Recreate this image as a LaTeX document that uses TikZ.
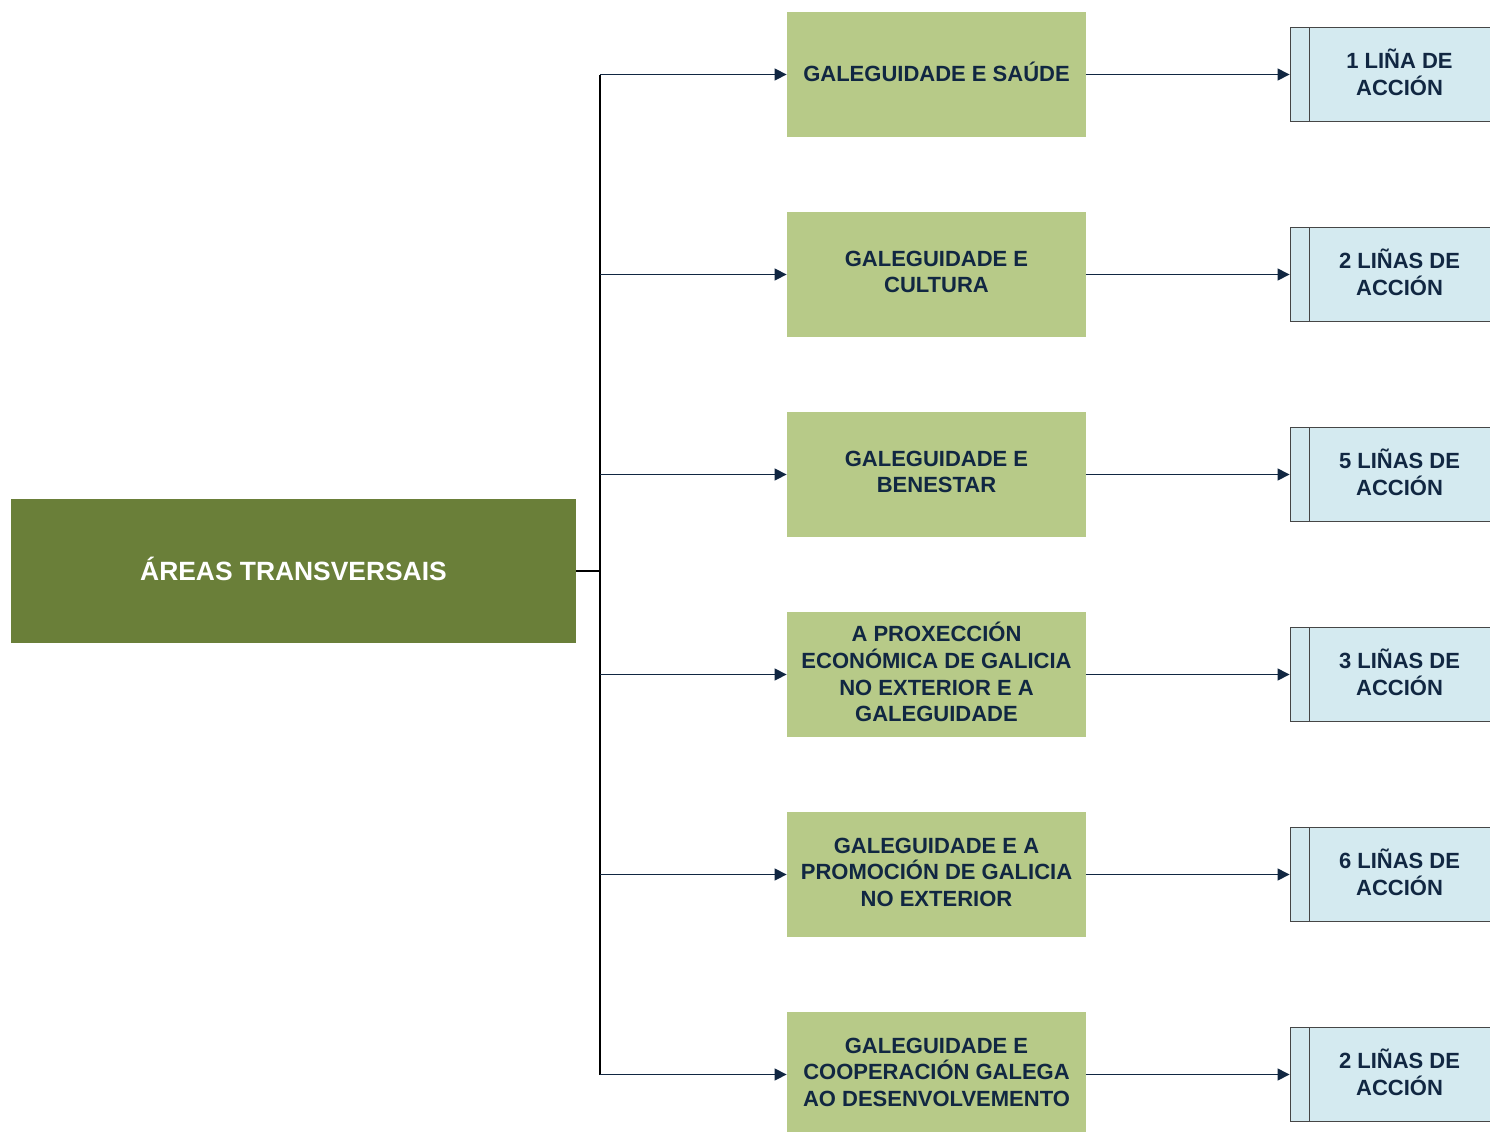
\documentclass[tikz,border=0pt]{standalone}
\usepackage{fontspec}
\setmainfont{Liberation Sans}
\usepackage{tikz}
\usetikzlibrary{calc}
\usetikzlibrary{arrows.meta}

\definecolor{navytext}{RGB}{17,39,66}
\definecolor{areafill}{RGB}{106,127,57}
\definecolor{themefill}{RGB}{183,202,136}
\definecolor{linefill}{RGB}{212,234,240}
\definecolor{lineborder}{RGB}{70,70,70}

\begin{document}
\begin{tikzpicture}[x=0.5pt,y=-0.5pt]
  \tikzset{myedge/.style={draw=navytext, line width=0.7pt, -{Triangle[length=6pt,width=6pt]}}};
  \tikzset{mytrunk/.style={draw=black, line width=0.7pt}};
  \tikzset{myarea/.style={rectangle, fill=areafill, text=white, inner sep=0pt,
      minimum width=282.5pt, minimum height=72pt, text depth=2pt,
      font=\bfseries\fontsize{13.2}{16}\selectfont}};
  \tikzset{mytheme/.style={rectangle, fill=themefill, text=navytext, inner sep=0pt,
      minimum width=149.5pt, minimum height=62.5pt, align=center, text depth=2.5pt,
      font=\bfseries\fontsize{11}{13.3}\selectfont}};
  \tikzset{mylines/.style={rectangle, fill=linefill, draw=lineborder, line width=0.45pt,
      inner sep=0pt, minimum width=100pt, minimum height=47pt,
      path picture={\draw[lineborder, line width=0.45pt]
        ([xshift=9.5pt]path picture bounding box.north west) --
        ([xshift=9.5pt]path picture bounding box.south west);}}};
  \tikzset{mylinestext/.style={text=navytext, align=center, xshift=4.75pt, yshift=1.2pt,
      font=\bfseries\fontsize{11}{13.3}\selectfont}};

  \useasboundingbox (0,0) rectangle (1490,1131);

  \node[myarea] (area) at (293.5,571) {ÁREAS TRANSVERSAIS};
  \coordinate (trunk) at (600,571);

  \node[mytheme] (saude) at (936.5,74.5) {GALEGUIDADE E SAÚDE};
  \node[mytheme] (cultura) at (936.5,274.5) {GALEGUIDADE E\\CULTURA};
  \node[mytheme] (benestar) at (936.5,474.5) {GALEGUIDADE E\\BENESTAR};
  \node[mytheme] (proxeccion) at (936.5,674.5) {A PROXECCIÓN\\ECONÓMICA DE GALICIA\\NO EXTERIOR E A\\GALEGUIDADE};
  \node[mytheme] (promocion) at (936.5,874.5) {GALEGUIDADE E A\\PROMOCIÓN DE GALICIA\\NO EXTERIOR};
  \node[mytheme] (cooperacion) at (936.5,1074.5) {GALEGUIDADE E\\COOPERACIÓN GALEGA\\AO DESENVOLVEMENTO};

  \node[mylines, label={[mylinestext]center:1 LIÑA DE\\ACCIÓN}] (saudel) at (1390,74.5) {};
  \node[mylines, label={[mylinestext]center:2 LIÑAS DE\\ACCIÓN}] (cultural) at (1390,274.5) {};
  \node[mylines, label={[mylinestext]center:5 LIÑAS DE\\ACCIÓN}] (benestarl) at (1390,474.5) {};
  \node[mylines, label={[mylinestext]center:3 LIÑAS DE\\ACCIÓN}] (proxeccionl) at (1390,674.5) {};
  \node[mylines, label={[mylinestext]center:6 LIÑAS DE\\ACCIÓN}] (promocionl) at (1390,874.5) {};
  \node[mylines, label={[mylinestext]center:2 LIÑAS DE\\ACCIÓN}] (cooperacionl) at (1390,1074.5) {};

  % tronco
  \draw[mytrunk] (area.east) -- (trunk);
  \draw[mytrunk] (trunk |- saude) -- (trunk |- cooperacion);

  % areas
  \draw [myedge] (trunk |- saude) -- (saude.west);
  \draw [myedge] (trunk |- cultura) -- (cultura.west);
  \draw [myedge] (trunk |- benestar) -- (benestar.west);
  \draw [myedge] (trunk |- proxeccion) -- (proxeccion.west);
  \draw [myedge] (trunk |- promocion) -- (promocion.west);
  \draw [myedge] (trunk |- cooperacion) -- (cooperacion.west);

  % linas de accion
  \draw [myedge] (saude.east) -- (saudel.west);
  \draw [myedge] (cultura.east) -- (cultural.west);
  \draw [myedge] (benestar.east) -- (benestarl.west);
  \draw [myedge] (proxeccion.east) -- (proxeccionl.west);
  \draw [myedge] (promocion.east) -- (promocionl.west);
  \draw [myedge] (cooperacion.east) -- (cooperacionl.west);

\end{tikzpicture}
\end{document}
